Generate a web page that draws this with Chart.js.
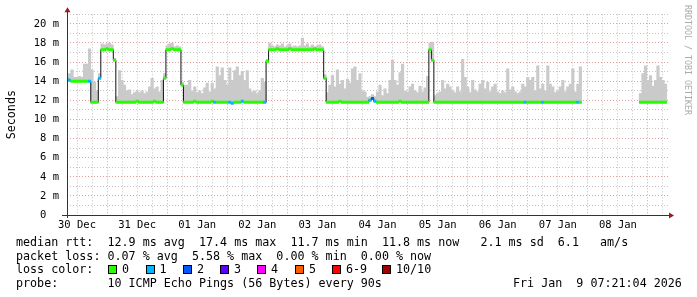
<!DOCTYPE html>
<html>
<head>
<meta charset="utf-8">
<script src="https://cdn.jsdelivr.net/npm/chart.js@4.4.1/dist/chart.umd.min.js"></script>
<style>
  html, body { margin: 0; padding: 0; background: #fff; }
  #wrap { position: relative; width: 697px; height: 297px; font-family: "DejaVu Sans Mono", monospace; color: #000; }
  #wrap canvas { position: absolute; left: 0; top: 0; }
  .row { position: absolute; left: 16px; font-size: 11.7px; line-height: 14px; white-space: pre; }
  .box { position: absolute; top: 265px; width: 7px; height: 7px; border: 1px solid #000; }
  .lab { position: absolute; top: 262px; font-size: 11.7px; line-height: 14px; white-space: pre; }
  #credit { position: absolute; left: 683px; top: 5px; writing-mode: vertical-rl; font-size: 8.3px; line-height: 10px; color: #aaa; white-space: pre; }
</style>
</head>
<body>
<div id="wrap">
  <canvas id="pingChart" width="697" height="297"></canvas>
  <div id="credit">RRDTOOL / TOBI OETIKER</div>
  <div class="row" style="top:235px">median rtt:  12.9 ms avg  17.4 ms max  11.7 ms min  11.8 ms now   2.1 ms sd  6.1   am/s</div>
  <div class="row" style="top:248.5px">packet loss: 0.07 % avg  5.58 % max  0.00 % min  0.00 % now</div>
  <div class="row" style="top:262px">loss color:</div>
  <div class="row" style="top:275.5px">probe:       10 ICMP Echo Pings (56 Bytes) every 90s</div>
  <div class="row" style="top:275.5px; left:513px">Fri Jan  9 07:21:04 2026</div>
</div>
<script>
// ---- data (one value per hour, first value = 30 Dec 08:00) ----
const firstHour = 8;
const dayLabels = ["30 Dec", "31 Dec", "01 Jan", "02 Jan", "03 Jan", "04 Jan", "05 Jan", "06 Jan", "07 Jan", "08 Jan"];

// median rtt in ms
const medianRtt = [
  14.2, 14.1, 14.0, 14.0, 14.0, 14.0, 14.0, 14.0, 14.0, 14.0, 11.8, 11.8, 11.8, 14.3, 17.3, 17.3, 17.4, 17.3, 17.3, 16.2, 11.8, 11.8, 11.8, 11.8,
  11.8, 11.8, 11.8, 11.8, 11.9, 11.8, 11.8, 11.8, 11.8, 11.8, 11.8, 11.9, 11.8, 11.8, 11.8, 14.3, 17.3, 17.3, 17.4, 17.3, 17.3, 17.3, 13.6, 11.8,
  11.8, 11.8, 11.8, 11.9, 11.8, 11.8, 11.8, 11.8, 11.8, 11.8, 11.9, 11.8, 11.8, 11.8, 11.8, 11.8, 11.8, 11.8, 11.7, 11.8, 11.8, 11.8, 11.9, 11.8,
  11.8, 11.8, 11.8, 11.8, 11.8, 11.8, 11.8, 11.8, 16.1, 17.3, 17.3, 17.3, 17.4, 17.3, 17.3, 17.3, 17.3, 17.4, 17.3, 17.3, 17.3, 17.3, 17.3, 17.3,
  17.3, 17.3, 17.3, 17.4, 17.3, 17.3, 17.3, 14.3, 11.8, 11.8, 11.8, 11.8, 11.8, 11.9, 11.8, 11.8, 11.8, 11.8, 11.8, 11.8, 11.8, 11.8, 11.8, 11.8,
  11.8, 12.0, 12.2, 11.9, 11.8, 11.8, 11.8, 11.8, 11.8, 11.8, 11.8, 11.8, 11.8, 11.9, 11.8, 11.8, 11.8, 11.8, 11.8, 11.8, 11.8, 11.8, 11.8, 11.8,
  11.8, 17.3, 16.2, 11.8, 11.8, 11.8, 11.8, 11.8, 11.8, 11.8, 11.8, 11.8, 11.8, 11.8, 11.8, 11.8, 11.8, 11.8, 11.8, 11.8, 11.8, 11.8, 11.8, 11.8,
  11.8, 11.8, 11.8, 11.8, 11.8, 11.8, 11.8, 11.8, 11.8, 11.8, 11.8, 11.8, 11.8, 11.8, 11.8, 11.8, 11.8, 11.8, 11.8, 11.8, 11.8, 11.8, 11.8, 11.8,
  11.8, 11.8, 11.8, 11.8, 11.8, 11.8, 11.8, 11.8, 11.8, 11.8, 11.8, 11.8, 11.8, 11.8, null, null, null, null, null, null, null, null, null, null,
  null, null, null, null, null, null, null, null, null, null, null, null, null, 11.8, 11.8, 11.8, 11.8, 11.8, 11.8, 11.8, 11.8, 11.8, 11.8, 11.8
];

// top of the smoke (slowest ping of the 10) in ms
const smokeTop = [
  14.6, 14.8, 15.2, 14.4, 14.4, 14.5, 14.4, 15.8, 15.8, 17.4, 15.2, 13.9, 13.0, 14.8, 17.9, 17.8, 17.9, 18.0, 17.8, 16.4, 12.4, 15.1, 14.1, 13.6,
  13.0, 13.1, 12.6, 12.8, 13.0, 12.8, 13.0, 12.7, 12.9, 13.4, 14.3, 13.2, 13.4, 12.9, 14.1, 14.8, 17.7, 17.9, 18.0, 17.6, 17.7, 17.6, 13.9, 13.6,
  13.6, 14.1, 13.0, 13.4, 12.8, 13.0, 12.7, 13.3, 13.8, 12.9, 13.8, 13.2, 15.5, 14.6, 15.4, 14.1, 13.6, 15.4, 14.1, 15.1, 15.5, 14.6, 15.0, 14.1,
  15.1, 13.2, 12.9, 13.0, 12.7, 13.0, 14.3, 13.9, 16.3, 18.0, 17.7, 17.6, 17.8, 17.7, 17.9, 17.6, 17.7, 17.9, 17.6, 17.7, 17.6, 17.7, 18.5, 17.7,
  17.9, 17.6, 17.8, 17.6, 17.7, 17.8, 17.6, 14.7, 12.8, 13.6, 14.6, 13.4, 15.2, 13.7, 14.1, 13.2, 14.2, 13.8, 15.3, 15.5, 14.1, 14.8, 13.0, 12.9,
  12.3, 12.4, 12.6, 12.4, 12.9, 13.6, 12.5, 13.2, 12.7, 14.1, 16.2, 14.1, 13.6, 14.9, 15.8, 13.0, 12.9, 13.4, 13.7, 13.0, 12.8, 13.5, 12.9, 13.3,
  14.5, 18.0, 18.1, 12.5, 12.7, 12.9, 14.1, 13.2, 13.7, 13.4, 13.0, 12.8, 13.4, 12.9, 16.3, 14.4, 13.4, 12.8, 14.1, 13.1, 12.9, 13.7, 14.1, 13.2,
  13.9, 12.9, 13.4, 13.7, 12.9, 12.7, 13.0, 12.8, 15.3, 13.1, 13.4, 12.9, 12.7, 12.9, 13.7, 13.4, 14.4, 14.1, 14.4, 13.0, 15.6, 13.2, 13.7, 13.0,
  15.6, 13.7, 13.4, 12.8, 13.0, 13.4, 14.1, 12.9, 13.4, 13.7, 15.3, 12.9, 13.7, 15.5, null, null, null, null, null, null, null, null, null, null,
  null, null, null, null, null, null, null, null, null, null, null, null, null, 12.7, 14.8, 15.6, 14.1, 14.6, 13.5, 14.1, 15.6, 14.4, 14.1, 13.7
];

// hours where pings were lost (1 of 10, 2 of 10)
const loss1Hours = [8, 9, 17, 21, 67, 73, 74, 78, 87, 129, 131, 191, 198, 212];
const loss2Hours = [130];

const lossLabels = ["0", "1", "2", "3", "4", "5", "6-9", "10/10"];
const lossColors = ["#26ff00", "#00b8ff", "#0059ff", "#5e00ff", "#ff00ff", "#ff5e00", "#ff0000", "#a10000"];

// ---- loss colour legend ----
const boxX = [108, 145.5, 183, 220, 257, 295, 332, 382];
const wrap = document.getElementById("wrap");
lossLabels.forEach((lab, i) => {
  const b = document.createElement("div");
  b.className = "box";
  b.style.left = boxX[i] + "px";
  b.style.background = lossColors[i];
  wrap.appendChild(b);
  const t = document.createElement("div");
  t.className = "lab";
  t.style.left = (boxX[i] + 14) + "px";
  t.textContent = lab;
  wrap.appendChild(t);
});

// ---- build chart data ----
const medianPts = medianRtt.map((v, i) => ({ x: firstHour + i, y: v }));
const smokeBars = smokeTop.map((v, i) => ({ x: firstHour + i, y: v == null ? null : [medianRtt[i], v] }));
const gridHours = [];
for (let h = 12; h < 248; h += 6) gridHours.push(h);

function lossColor(h) {
  if (loss2Hours.includes(h)) return lossColors[2];
  if (loss1Hours.includes(h)) return lossColors[1];
  return lossColors[0];
}

const monoFont = "DejaVu Sans Mono";

// axis lines + little red arrows like rrdtool
const axisArrows = {
  id: "axisArrows",
  afterDatasetsDraw(chart) {
    const { ctx, chartArea: a } = chart;
    const yb = Math.round(a.bottom) + 0.5;
    const xl = Math.round(a.left) + 0.5;
    ctx.save();
    ctx.strokeStyle = "#333";
    ctx.lineWidth = 1;
    ctx.beginPath();
    ctx.moveTo(a.left - 5, yb);
    ctx.lineTo(a.right + 2, yb);
    ctx.moveTo(xl, a.bottom + 3);
    ctx.lineTo(xl, a.top - 3);
    ctx.stroke();
    ctx.fillStyle = "#9b1c1c";
    ctx.beginPath();
    ctx.moveTo(a.right + 1, yb - 3);
    ctx.lineTo(a.right + 6, yb);
    ctx.lineTo(a.right + 1, yb + 3);
    ctx.closePath();
    ctx.fill();
    ctx.beginPath();
    ctx.moveTo(xl - 3, a.top - 2);
    ctx.lineTo(xl, a.top - 7);
    ctx.lineTo(xl + 3, a.top - 2);
    ctx.closePath();
    ctx.fill();
    ctx.restore();
  }
};

new Chart(document.getElementById("pingChart"), {
  type: "line",
  data: {
    datasets: [
      {
        label: "median rtt",
        data: medianPts,
        showLine: false,
        pointStyle: "line",
        pointRadius: 1.5,
        pointHoverRadius: 1.5,
        pointBorderWidth: 3,
        pointBorderColor: (c) => (c.parsed ? lossColor(c.parsed.x) : lossColors[0]),
        order: 1
      },
      {
        label: "median step",
        data: medianPts,
        stepped: "middle",
        borderColor: "#111",
        borderWidth: 1,
        pointRadius: 0,
        spanGaps: false,
        order: 2
      },
      {
        type: "bar",
        label: "smoke",
        data: smokeBars,
        backgroundColor: "#cacaca",
        barPercentage: 1,
        categoryPercentage: 1,
        order: 3
      }
    ]
  },
  options: {
    responsive: false,
    animation: false,
    events: [],
    layout: { padding: { left: 0, right: 29, top: 13, bottom: 0 } },
    plugins: { legend: { display: false }, tooltip: { enabled: false } },
    scales: {
      x: {
        type: "linear",
        min: 8,
        max: 248,
        offset: false,
        afterBuildTicks: (s) => { s.ticks = gridHours.map((v) => ({ value: v })); },
        afterFit: (s) => { s.height = 82; },
        ticks: {
          autoSkip: false,
          maxRotation: 0,
          padding: 4,
          color: "#000",
          font: { family: monoFont, size: 10.5 },
          callback: (v) => (v % 24 === 12 ? dayLabels[(v - 12) / 24] : "")
        },
        grid: {
          offset: false,
          drawTicks: false,
          lineWidth: 1,
          color: (c) => (c.tick && c.tick.value % 24 === 0 ? "#e3a0a0" : "#c4c4c4")
        },
        border: { display: false, dash: [1, 2] }
      },
      y: {
        min: 0,
        max: 21,
        afterFit: (s) => { s.width = 67; },
        ticks: {
          stepSize: 1,
          autoSkip: false,
          padding: 8,
          color: "#000",
          font: { family: monoFont, size: 10.5 },
          callback: (v) => (v % 2 !== 0 ? "" : v === 0 ? "0  " : v + " m")
        },
        grid: {
          drawTicks: false,
          lineWidth: 1,
          color: (c) => (c.tick && c.tick.value % 2 === 0 ? "#e3a0a0" : "#c4c4c4")
        },
        border: { display: false, dash: [1, 2] },
        title: {
          display: true,
          text: "Seconds",
          color: "#000",
          font: { family: monoFont, size: 11.7 },
          padding: { top: 5, bottom: 0 }
        }
      }
    }
  },
  plugins: [axisArrows]
});
</script>
</body>
</html>
